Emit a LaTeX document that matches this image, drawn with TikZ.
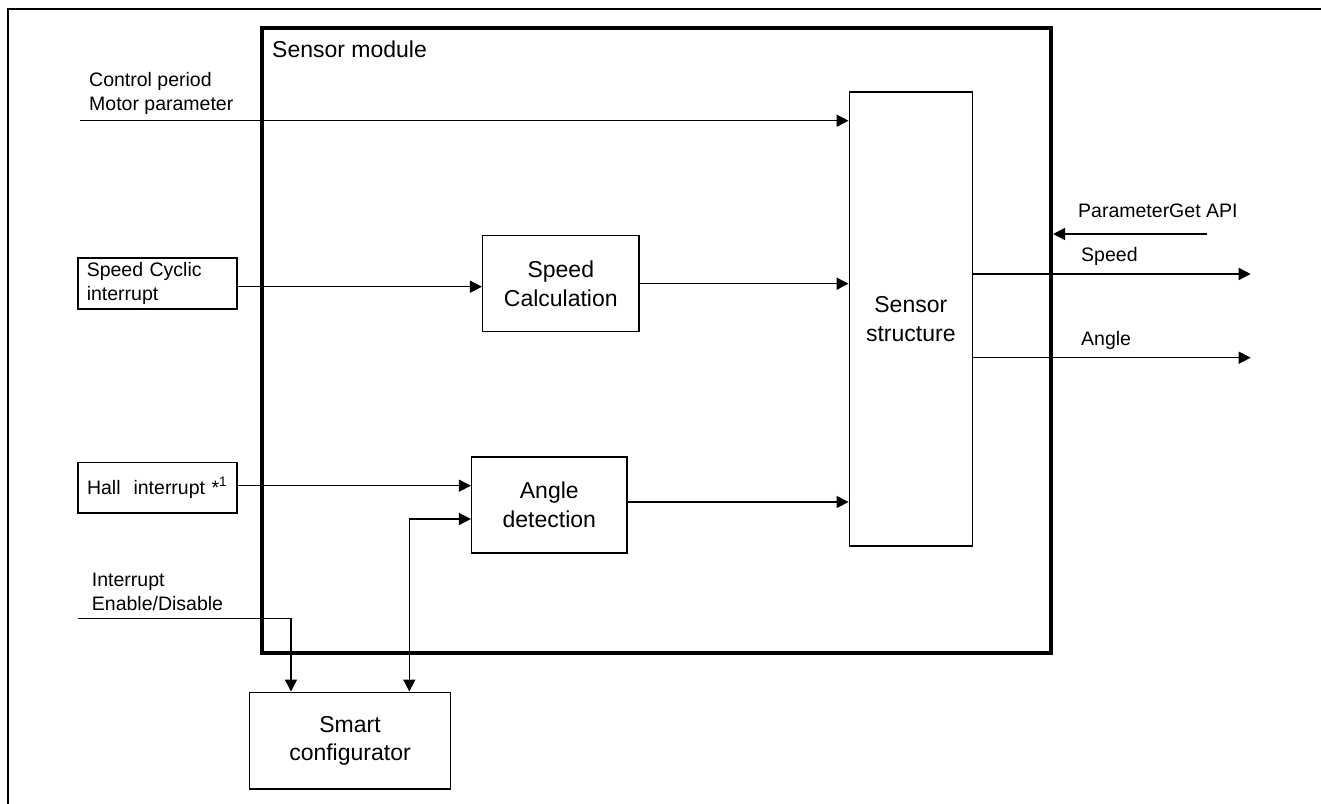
\documentclass[tikz,border=0pt]{standalone}
\usepackage{fontspec}
\setmainfont{Liberation Sans}
\usetikzlibrary{arrows.meta}
\tikzset{
  lbl/.style={inner sep=0pt, anchor=base west, font=\fontsize{19.5}{24.7}\selectfont},
  blk/.style={draw, line width=1.5pt, inner sep=0pt, align=center, font=\fontsize{23}{28.5}\selectfont},
  inbox/.style={draw, line width=1.5pt, inner xsep=9pt, inner ysep=0pt, align=left, text width=141pt, font=\fontsize{19.5}{24.7}\selectfont},
  conn/.style={line width=1.5pt, -{Triangle[length=12pt,width=12pt]}},
  conn2/.style={line width=1.5pt, {Triangle[length=12pt,width=12pt]}-{Triangle[length=12pt,width=12pt]}}
}
\begin{document}
\begin{tikzpicture}[x=1pt,y=-1pt]
\useasboundingbox (0,0) rectangle (1321,803);
\clip (0,0) rectangle (1321,803);
\fill[white] (0,0) rectangle (1321,803);
% outer frame
\draw[line width=2.2pt] (7.7,820) -- (7.7,9) -- (1340,9);
% sensor module frame
\node[draw, line width=4pt, inner sep=0pt, minimum width=789pt, minimum height=624.7pt] (sm) at (656.5,340.6) {};
\node[lbl, font=\fontsize{23}{28}\selectfont] (smlbl) at (272,57) {Sensor module};
% blocks
\node[blk, minimum width=123pt, minimum height=454pt] (ss) at (910.8,319) {Sensor\\structure};
\node[blk, minimum width=156.3pt, minimum height=96pt] (sc) at (560.8,283.7) {Speed\\Calculation};
\node[blk, minimum width=155.3pt, minimum height=96pt] (ad) at (549.3,505) {Angle\\detection};
\node[blk, minimum width=201.4pt, minimum height=96.7pt] (smc) at (350,740.6) {Smart\\configurator};
\node[inbox, minimum height=51pt] (sci) at (157.3,283.5) {Speed Cyclic\\interrupt};
\node[inbox, minimum height=50.3pt] (hi) at (157.5,487.8) {Hall\ \ interrupt *\textsuperscript{1}};
% labels
\node[lbl] (cp1) at (89,86) {Control period};
\node[lbl] (cp2) at (89,110) {Motor parameter};
\node[lbl] (ie1) at (91.7,586) {Interrupt};
\node[lbl] (ie2) at (91.7,610.7) {Enable/Disable};
\node[lbl] (pg) at (1078,217.3) {ParameterGet API};
\node[lbl] (spd) at (1081,261) {Speed};
\node[lbl] (ang) at (1081,345.7) {Angle};
% coordinates
\coordinate (cpstart) at (80,120.7);
\coordinate (iestart) at (78,618.3);
\coordinate (iecorner) at (291,618.3);
\coordinate (adcorner) at (409.3,519);
\coordinate (pgstart) at (1207,234);
\coordinate (spdend) at (1250.7,274);
\coordinate (angend) at (1250.7,357.7);
% connectors
\draw[conn] (cpstart) -- (cpstart -| ss.west);
\draw[conn] (sci.east |- 0,286.7) -- (sc.west |- 0,286.7);
\draw[conn] (sc.east |- 0,283.7) -- (ss.west |- 0,283.7);
\draw[conn] (hi.east |- 0,485.7) -- (ad.west |- 0,485.7);
\draw[conn] (ad.east |- 0,502) -- (ss.west |- 0,502);
\draw[conn2] (smc.north -| adcorner) -- (adcorner) -- (adcorner -| ad.west);
\draw[conn] (iestart) -- (iecorner) -- (iecorner |- smc.north);
\draw[conn] (pgstart) -- (pgstart -| sm.east);
\draw[conn] (spdend -| ss.east) -- (spdend);
\draw[conn] (angend -| ss.east) -- (angend);
\end{tikzpicture}
\end{document}
